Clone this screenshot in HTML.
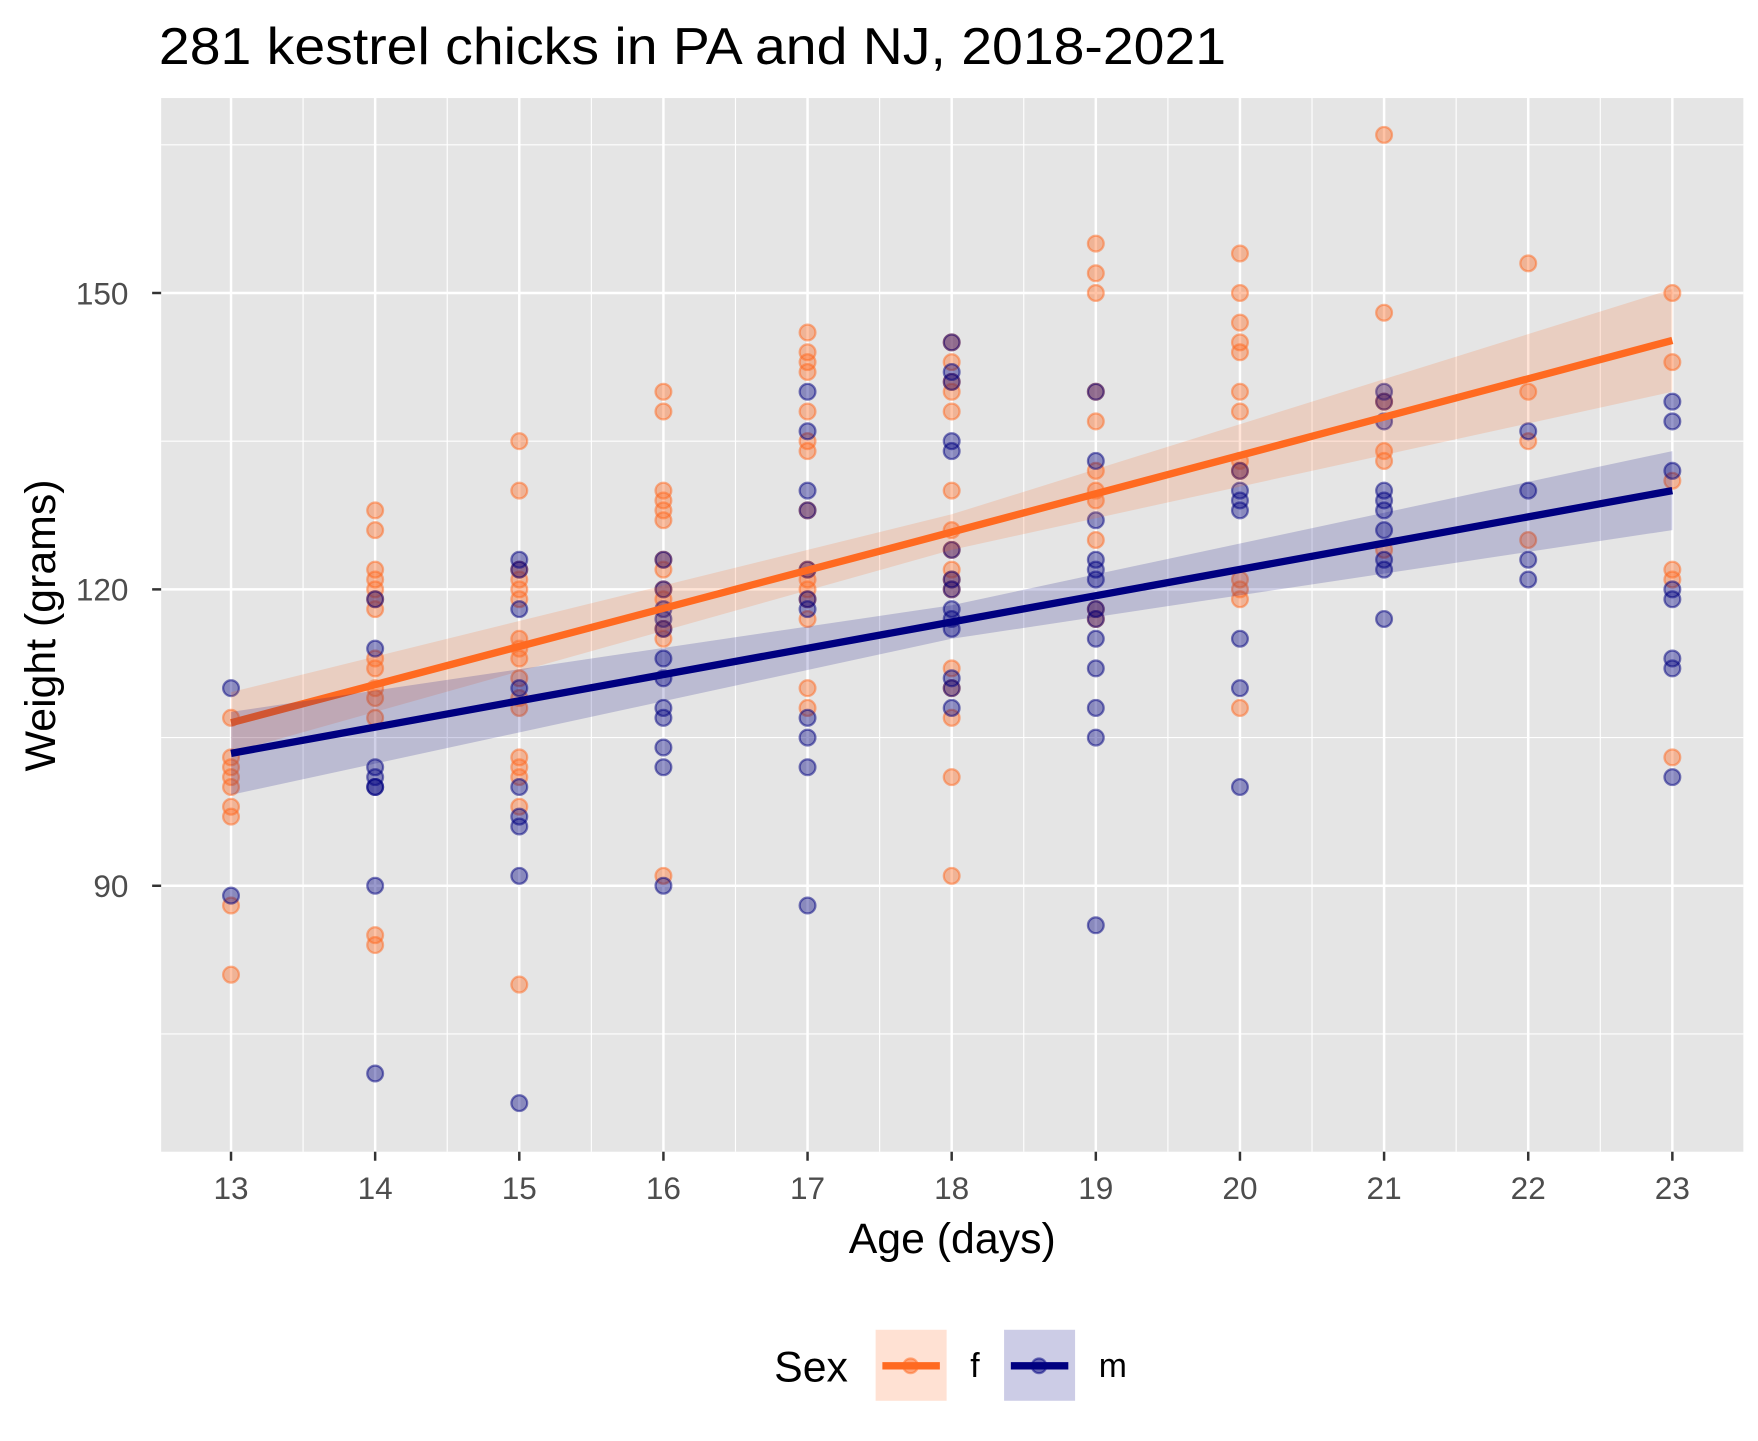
<!DOCTYPE html>
<html><head><meta charset="utf-8"><style>
html,body{margin:0;padding:0;background:#fff;}
svg{display:block;font-family:"Liberation Sans",Arial,sans-serif;}
</style></head><body>
<svg id="chart" width="1758" height="1441" viewBox="0 0 1560 1278.7" preserveAspectRatio="none" xmlns="http://www.w3.org/2000/svg">
<rect width="1560" height="1280" fill="#fff"/>
<text x="141" y="57" font-size="46" textLength="947" lengthAdjust="spacingAndGlyphs" fill="#000">281 kestrel chicks in PA and NJ, 2018-2021</text>
<rect x="143" y="87" width="1404" height="935" fill="#e5e5e5"/>
<g id="grid"></g>
<g id="points"></g>
<g id="fits"></g>
<g id="axes"></g>
<text x="845" y="1112" font-size="38" text-anchor="middle">Age (days)</text>
<text transform="translate(49,555) rotate(-90)" font-size="38" text-anchor="middle">Weight (grams)</text>
<g>
<text x="687" y="1226" font-size="38">Sex</text>
<g>
<rect x="777" y="1180" width="63" height="63" fill="#ff6a21" fill-opacity="0.2"/>
<line x1="783" y1="1212" x2="834" y2="1212" stroke="#ff6a21" stroke-width="6.5"/>
<circle cx="808" cy="1212" r="6.5" fill="#ff6a21" fill-opacity="0.5" stroke="#ff6a21" stroke-opacity="0.5" stroke-width="2"/>
<text x="861" y="1222" font-size="30">f</text></g>
<g>
<rect x="891" y="1180" width="63" height="63" fill="#000080" fill-opacity="0.2"/>
<line x1="897" y1="1212" x2="948" y2="1212" stroke="#000080" stroke-width="6.5"/>
<circle cx="922" cy="1212" r="6.5" fill="#000080" fill-opacity="0.5" stroke="#000080" stroke-opacity="0.5" stroke-width="2"/>
<text x="975" y="1222" font-size="30">m</text></g>
</g>
</svg>
<script>
const ages=[13,14,15,16,17,18,19,20,21,22,23];
const femaleWeights=[
[107,103,102,101,100,98,97,88,81],
[128,126,122,121,120,119,118,113,112,110,109,107,85,84],
[135,130,122,121,120,119,115,114,113,111,109,108,103,102,101,98,80],
[140,138,130,129,128,127,123,122,120,119,116,115,91],
[146,144,143,142,138,135,134,128,122,121,120,119,117,110,108],
[145,143,141,140,138,130,126,124,122,121,120,112,110,107,101,91],
[155,152,150,140,137,132,130,129,125,118,117],
[154,150,147,145,144,140,138,133,132,121,120,119,108],
[166,148,139,134,133,124],
[153,140,135,125],
[150,143,131,122,121,103]];
const maleWeights=[
[110,89],
[119,114,102,101,100,100,90,71],
[123,122,118,110,100,97,96,91,68],
[123,120,118,117,116,113,111,108,107,104,102,90],
[140,136,130,128,122,119,118,107,105,102,88],
[145,142,141,135,134,124,121,120,118,117,116,111,110,108],
[140,133,127,123,122,121,118,117,115,112,108,105,86],
[132,130,129,128,115,110,100],
[140,139,137,130,129,128,126,123,122,117],
[136,130,123,121],
[139,137,132,120,119,113,112,101]];
const fitAges=[13,18,23];
const femaleFit=[106.5,125.8,145.2];
const femaleLower=[103.5,124.0,140.0];
const femaleUpper=[109.6,127.6,150.4];
const maleFit=[103.4,116.7,130.0];
const maleLower=[99.2,115.0,126.0];
const maleUpper=[107.6,118.4,134.0];
const yMajor=[90,120,150];
const yMinor=[75,105,135,165];

const NS="http://www.w3.org/2000/svg";
const X=a=>205+(a-13)*127.9;
const Y=w=>523-(w-120)*8.767;
function mk(tag,attrs,parent){const e=document.createElementNS(NS,tag);for(const k in attrs)e.setAttribute(k,attrs[k]);parent.appendChild(e);return e;}
const grid=document.getElementById('grid'),pts=document.getElementById('points'),fits=document.getElementById('fits'),axes=document.getElementById('axes');
yMinor.forEach(v=>{const l=mk('line',{x1:143,x2:1547,y1:Y(v),y2:Y(v),stroke:'#fff','stroke-width':1},grid);

});
for(let i=0;i<ages.length-1;i++){const a=ages[i]+0.5;const l=mk('line',{x1:X(a),x2:X(a),y1:87,y2:1022,stroke:'#fff','stroke-width':1},grid);

}
yMajor.forEach(v=>{const l=mk('line',{x1:143,x2:1547,y1:Y(v),y2:Y(v),stroke:'#fff','stroke-width':2.2},grid);


const t=mk('line',{x1:135,x2:143,y1:Y(v),y2:Y(v),stroke:'#333','stroke-width':2.2},axes);


const tx=mk('text',{x:114,y:Y(v)+10,'font-size':28,'text-anchor':'end',fill:'#4d4d4d'},axes);tx.textContent=v;

});
ages.forEach(a=>{const l=mk('line',{x1:X(a),x2:X(a),y1:87,y2:1022,stroke:'#fff','stroke-width':2.2},grid);


const t=mk('line',{x1:X(a),x2:X(a),y1:1022,y2:1030,stroke:'#333','stroke-width':2.2},axes);


const tx=mk('text',{x:X(a),y:1064,'font-size':28,'text-anchor':'middle',fill:'#4d4d4d'},axes);tx.textContent=a;

});
function drawPts(data,col,name){data.forEach((arr,i)=>arr.forEach(w=>{const c=mk('circle',{cx:X(ages[i]),cy:Y(w),r:7,fill:col,'fill-opacity':0.4,stroke:col,'stroke-opacity':0.5,'stroke-width':2},pts);

}));}
drawPts(femaleWeights,'#ff6a21','point-female');
drawPts(maleWeights,'#000080','point-male');
function drawFit(fit,lo,hi,col,name){
let d='M'+fitAges.map((a,i)=>X(a)+','+Y(hi[i])).join('L')+'L'+fitAges.slice().reverse().map((a,j)=>{const i=fitAges.length-1-j;return X(a)+','+Y(lo[i]);}).join('L')+'Z';
const r=mk('path',{d:d,fill:col,'fill-opacity':0.18},fits);


const l=mk('polyline',{points:fitAges.map((a,i)=>X(a)+','+Y(fit[i])).join(' '),fill:'none',stroke:col,'stroke-width':6.5},fits);

}
drawFit(femaleFit,femaleLower,femaleUpper,'#ff6a21','female');
drawFit(maleFit,maleLower,maleUpper,'#000080','male');
</script>
</body></html>
